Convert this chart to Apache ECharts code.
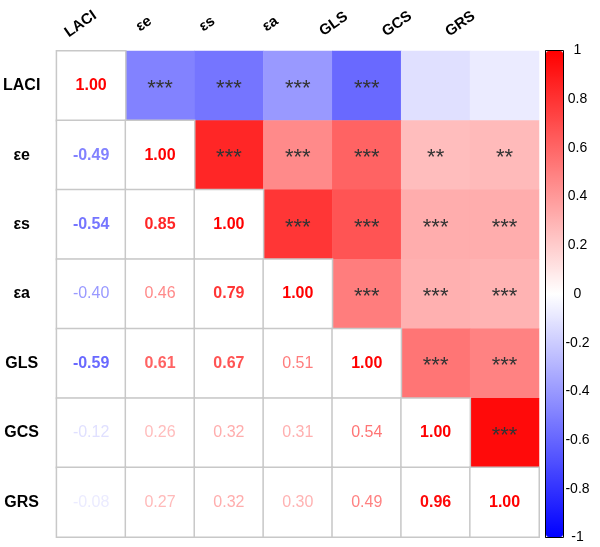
<!DOCTYPE html>
<html>
<head>
<meta charset="utf-8">
<script src="https://cdn.jsdelivr.net/npm/echarts@6/dist/echarts.min.js"></script>
<style>
html,body{margin:0;padding:0;background:#fff;}
#main{width:600px;height:547px;}
</style>
</head>
<body>
<div id="main"></div>
<script>
// Variable names (rows top-to-bottom, columns left-to-right)
const variables = ['LACI', 'εe', 'εs', 'εa', 'GLS', 'GCS', 'GRS'];

// Lower triangle of the correlation matrix (row i, columns 0..i)
const row_LACI = [1.00];
const row_ee   = [-0.49, 1.00];
const row_es   = [-0.54, 0.85, 1.00];
const row_ea   = [-0.40, 0.46, 0.79, 1.00];
const row_GLS  = [-0.59, 0.61, 0.67, 0.51, 1.00];
const row_GCS  = [-0.12, 0.26, 0.32, 0.31, 0.54, 1.00];
const row_GRS  = [-0.08, 0.27, 0.32, 0.30, 0.49, 0.96, 1.00];

// Significance stars in the upper triangle (row i, columns i+1..6)
const sig_LACI = ['***', '***', '***', '***', '', ''];
const sig_ee   = ['***', '***', '***', '**', '**'];
const sig_es   = ['***', '***', '***', '***'];
const sig_ea   = ['***', '***', '***'];
const sig_GLS  = ['***', '***'];
const sig_GCS  = ['***'];

// Colour bar tick values
const barTicks = [-1, -0.8, -0.6, -0.4, -0.2, 0, 0.2, 0.4, 0.6, 0.8, 1];

const lowerRows = [row_LACI, row_ee, row_es, row_ea, row_GLS, row_GCS, row_GRS];
const sigRows = [sig_LACI, sig_ee, sig_es, sig_ea, sig_GLS, sig_GCS];

function corr(i, j) { return i >= j ? lowerRows[i][j] : lowerRows[j][i]; }

function colorFor(v) {
  let r, g, b;
  if (v >= 0) { r = 255; g = b = Math.round(255 * (1 - v)); }
  else { b = 255; r = g = Math.round(255 * (1 + v)); }
  return 'rgb(' + r + ',' + g + ',' + b + ')';
}

const lowerData = [];
for (let i = 0; i < variables.length; i++) {
  for (let j = 0; j <= i; j++) {
    const v = corr(i, j);
    lowerData.push({
      value: [j, i, v],
      label: {
        color: colorFor(v),
        fontWeight: (v >= 0.6 || v <= -0.45) ? 'bold' : 'normal'
      }
    });
  }
}
const upperData = [];
for (let i = 0; i < sigRows.length; i++) {
  for (let j = i + 1; j < variables.length; j++) {
    upperData.push({ value: [j, i, corr(i, j)], stars: sigRows[i][j - i - 1] });
  }
}

const chart = echarts.init(document.getElementById('main'), null, { renderer: 'canvas' });
const font = 'Arial, "Liberation Sans", sans-serif';

chart.setOption({
  backgroundColor: '#fff',
  animation: false,
  grid: [
    { left: 53, top: 51, width: 486, height: 486 },
    { left: 545.5, top: 50.5, width: 18, height: 487, show: true, borderColor: '#000', borderWidth: 1, backgroundColor: 'transparent' },
    { left: 49, top: 51, width: 443, height: 486 }
  ],
  xAxis: [
    { type: 'category', data: variables, gridIndex: 0, position: 'top',
      axisLine: { show: false }, axisTick: { show: false }, axisLabel: { show: false },
      splitLine: { show: false } },
    { type: 'value', gridIndex: 1, show: false, min: 0, max: 1 },
    { type: 'category', data: variables, gridIndex: 2, position: 'top',
      axisLine: { show: false }, axisTick: { show: false },
      axisLabel: { rotate: 35, fontSize: 15, fontWeight: 'bold', color: '#000', fontFamily: font,
        align: 'center', verticalAlign: 'middle', margin: 27, interval: 0 } }
  ],
  yAxis: [
    { type: 'category', data: variables, gridIndex: 0, inverse: true,
      axisLine: { show: false }, axisTick: { show: false },
      axisLabel: { fontSize: 16, fontWeight: 'bold', color: '#000', fontFamily: font,
        align: 'center', margin: 35, interval: 0 } },
    { type: 'value', gridIndex: 1, min: -1, max: 1, interval: 0.2, position: 'right',
      axisLine: { show: false },
      axisTick: { show: true, length: 4, lineStyle: { color: '#000', width: 1 } },
      splitLine: { show: false },
      axisLabel: { color: '#000', fontSize: 14, fontFamily: font, align: 'center', margin: 14,
        formatter: function (v) {
          const t = barTicks.find(function (b) { return Math.abs(b - v) < 1e-6; });
          return t === undefined ? '' : String(t);
        } } },
    { type: 'value', gridIndex: 2, show: false }
  ],
  visualMap: {
    type: 'continuous', min: -1, max: 1, seriesIndex: 0,
    inRange: { color: ['#0000ff', '#ffffff', '#ff0000'] },
    orient: 'vertical', left: 546, top: 51, itemWidth: 17, itemHeight: 486,
    padding: 0, calculable: false, hoverLink: false
  },
  series: [
    {
      type: 'heatmap', xAxisIndex: 0, yAxisIndex: 0, data: upperData,
      label: { show: true, color: '#333', fontSize: 22, fontFamily: font, offset: [0, 3],
        formatter: function (p) { return p.data.stars; } },
      itemStyle: { borderWidth: 0 }
    },
    {
      type: 'heatmap', xAxisIndex: 0, yAxisIndex: 0, data: lowerData,
      itemStyle: { color: '#ffffff', borderColor: '#c8c8c8', borderWidth: 1.5 },
      label: { show: true, fontSize: 16, fontFamily: font,
        formatter: function (p) { return p.value[2].toFixed(2); } }
    }
  ]
});
</script>
</body>
</html>
